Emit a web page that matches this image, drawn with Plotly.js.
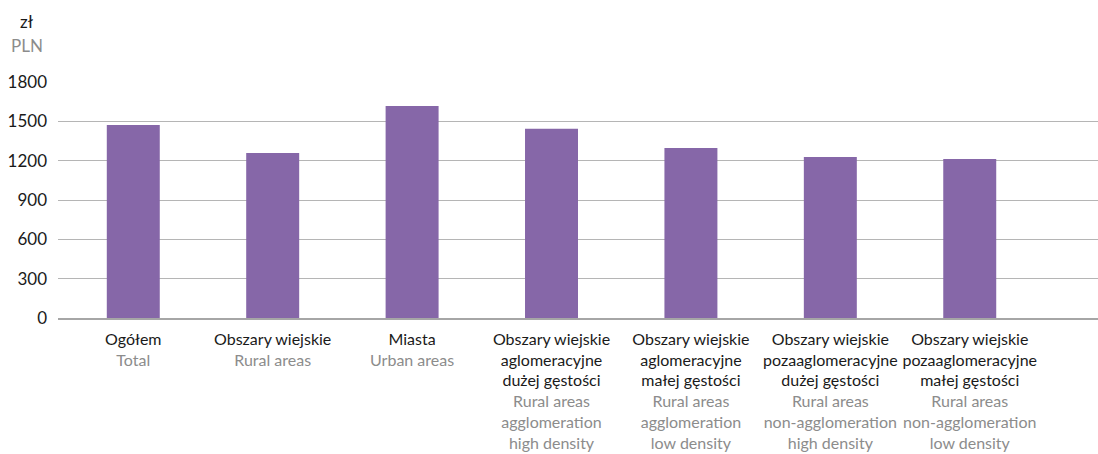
<!DOCTYPE html>
<html>
<head>
<meta charset="utf-8">
<script src="https://cdn.plot.ly/plotly-3.0.1.min.js"></script>
<style>html,body{margin:0;padding:0;background:#fff;}#chart{width:1098px;height:454px;}</style>
</head>
<body>
<div id="chart"></div>
<script>
const categoriesPL = [
  "Ogółem",
  "Obszary wiejskie",
  "Miasta",
  "Obszary wiejskie<br>aglomeracyjne<br>dużej gęstości",
  "Obszary wiejskie<br>aglomeracyjne<br>małej gęstości",
  "Obszary wiejskie<br>pozaaglomeracyjne<br>dużej gęstości",
  "Obszary wiejskie<br>pozaaglomeracyjne<br>małej gęstości"
];
const categoriesEN = [
  "Total",
  "Rural areas",
  "Urban areas",
  "Rural areas<br>agglomeration<br>high density",
  "Rural areas<br>agglomeration<br>low density",
  "Rural areas<br>non-agglomeration<br>high density",
  "Rural areas<br>non-agglomeration<br>low density"
];
const values = [1472, 1259, 1617, 1443, 1297, 1228, 1213];
const yTicks = [0, 300, 600, 900, 1200, 1500, 1800];

const xIdx = categoriesPL.map((_, i) => i);
const tickText = categoriesPL.map((pl, i) =>
  pl + '<br><span style="color:#8c8c8c">' + categoriesEN[i].split('<br>').join('</span><br><span style="color:#8c8c8c">') + '</span>'
);

const trace = {
  type: 'bar',
  x: xIdx,
  y: values,
  width: 0.38,
  marker: {color: '#8667a8'},
  hoverinfo: 'y'
};

const layout = {
  width: 1098,
  height: 454,
  margin: {l: 58, r: 0, t: 82, b: 136, pad: 0},
  paper_bgcolor: '#fff',
  plot_bgcolor: '#fff',
  showlegend: false,
  font: {family: 'Lato, "Open Sans", sans-serif', color: '#1a1a1a'},
  xaxis: {
    type: 'linear',
    range: [-0.54, 6.92],
    tickmode: 'array',
    tickvals: xIdx,
    ticktext: tickText,
    tickfont: {size: 16, color: '#1a1a1a'},
    showgrid: false,
    zeroline: false,
    showline: true,
    linecolor: '#a6a6a6',
    linewidth: 1.5,
    ticks: '',
    ticklabelstandoff: 6,
    fixedrange: true
  },
  yaxis: {
    range: [0, 1800],
    tickmode: 'array',
    tickvals: yTicks,
    ticktext: yTicks.map(String),
    tickfont: {size: 17, color: '#1a1a1a'},
    showgrid: true,
    gridcolor: '#b5b5b5',
    gridwidth: 1,
    zeroline: false,
    showline: false,
    ticks: '',
    ticklabelstandoff: 10,
    fixedrange: true
  },
  annotations: [
    {xref: 'paper', yref: 'paper', x: -0.0298, y: 1.0, xanchor: 'center', yanchor: 'bottom',
     yshift: 48, text: 'zł', showarrow: false, font: {size: 17, color: '#1a1a1a'}},
    {xref: 'paper', yref: 'paper', x: -0.0298, y: 1.0, xanchor: 'center', yanchor: 'bottom',
     yshift: 24, text: 'PLN', showarrow: false, font: {size: 17, color: '#8c8c8c'}}
  ]
};

Plotly.newPlot('chart', [trace], layout, {displayModeBar: false, staticPlot: true});
</script>
</body>
</html>
